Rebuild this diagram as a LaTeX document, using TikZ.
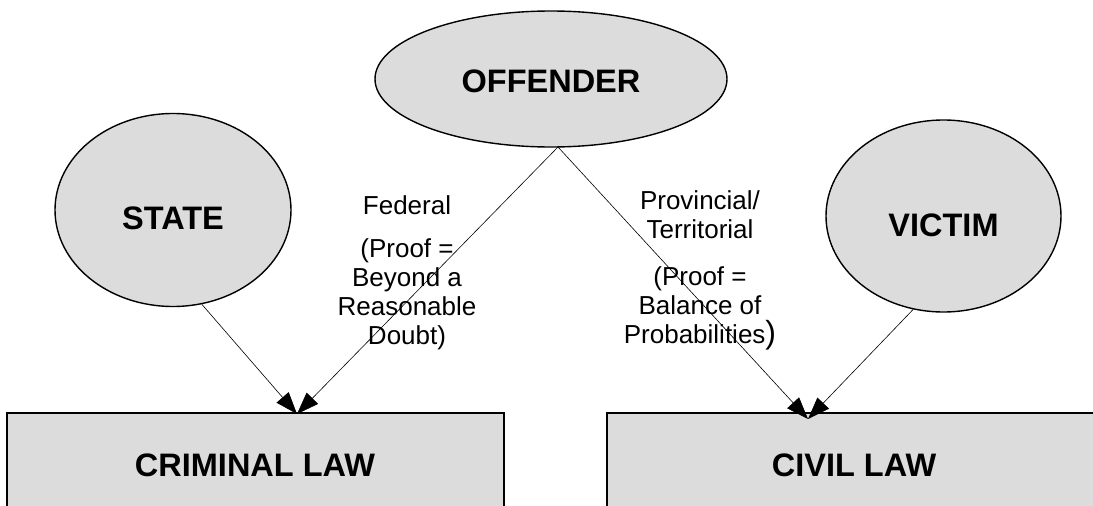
\documentclass[tikz,border=0pt]{standalone}
\usepackage{fontspec}
\setmainfont{Liberation Sans}
\usetikzlibrary{shapes.geometric,arrows.meta}
\definecolor{boxgray}{HTML}{DCDCDC}
\newcommand{\lowerby}[2]{\raisebox{-#1}[\height][\depth]{#2}}
\tikzset{
  party/.style={ellipse, draw=black, line width=1.4pt, fill=boxgray, inner sep=0pt,
     font=\fontsize{32.5}{32.5}\selectfont\bfseries},
  lawbox/.style={draw=black, line width=1.4pt, fill=boxgray},
  lawtext/.style={font=\fontsize{32.5}{32.5}\selectfont\bfseries, inner sep=0pt},
  lbl/.style={font=\fontsize{26}{29}\selectfont, align=center, inner sep=0pt},
  conn/.style={line width=0.6pt, -{Triangle[length=22pt,width=16pt]}}
}
\begin{document}
\begin{tikzpicture}[x=1pt,y=-1pt]
\useasboundingbox (0,0) rectangle (1093,506);
\clip (0,0) rectangle (1093,506);
% boxes
\draw[lawbox] (7,413) rectangle (504,530);
\draw[lawbox] (607,413) rectangle (1110,530);
\node[lawtext] (crim) at (255,465) {CRIMINAL LAW};
\node[lawtext] (civ) at (854,465) {CIVIL LAW};
\coordinate (crimtop) at (297,414);
\coordinate (civtop) at (808,419);
% ellipses
\node[party, minimum width=352pt, minimum height=136pt] (off) at (551,79) {\lowerby{2pt}{OFFENDER}};
\node[party, minimum width=236pt, minimum height=193pt] (state) at (173,210) {\lowerby{8pt}{STATE}};
\node[party, minimum width=235pt, minimum height=192pt] (victim) at (943.5,216) {\lowerby{9pt}{VICTIM}};
\coordinate (offbot) at (558,147);
% labels
\node[lbl] (fed) at (407,205) {Federal};
\node[lbl] (fedp) at (407,294) {(Proof =\\Beyond a\\Reasonable\\Doubt)};
\node[lbl] (prov) at (700,215) {Provincial/\\Territorial};
\node[lbl] (provp) at (700,308) {(Proof =\\Balance of\\Probabilities{\fontsize{32}{29}\selectfont)}};
% connectors
\draw[conn] (state.-73) -- (crimtop);
\draw[conn] (offbot) -- (crimtop);
\draw[conn] (offbot) -- (civtop);
\draw[conn] (victim.-108) -- (civtop);
\end{tikzpicture}
\end{document}
